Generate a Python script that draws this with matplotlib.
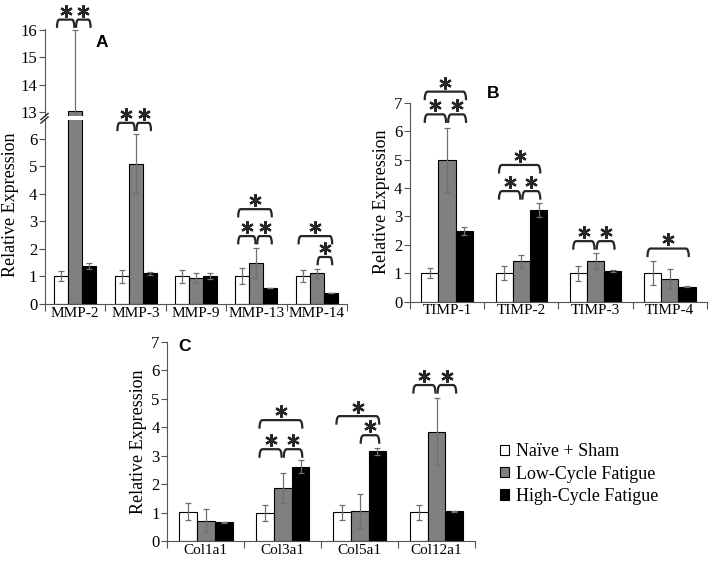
import numpy as np
import matplotlib.pyplot as plt
from matplotlib.patches import Patch, PathPatch
from matplotlib.path import Path
from matplotlib.lines import Line2D

# Times-like text for the whole figure
plt.rcParams['font.family'] = ['Liberation Serif', 'DejaVu Serif']

# data (mean relative expression and error)
mmp_genes = ['MMP-2', 'MMP-3', 'MMP-9', 'MMP-13', 'MMP-14']
mmp_sham = [1.0, 1.0, 1.0, 1.0, 1.0]
mmp_sham_err = [0.18, 0.24, 0.24, 0.3, 0.21]
mmp_low = [13.05, 5.1, 0.92, 1.47, 1.1]
mmp_low_err = [2.95, 1.08, 0.18, 0.55, 0.18]
mmp_high = [1.38, 1.1, 1.0, 0.56, 0.38]
mmp_high_err = [0.1, 0.06, 0.1, 0.0, 0.0]

timp_genes = ['TIMP-1', 'TIMP-2', 'TIMP-3', 'TIMP-4']
timp_sham = [1.02, 1.0, 1.0, 1.02]
timp_sham_err = [0.18, 0.24, 0.26, 0.42]
timp_low = [4.98, 1.42, 1.42, 0.79]
timp_low_err = [1.13, 0.22, 0.28, 0.35]
timp_high = [2.5, 3.22, 1.08, 0.52]
timp_high_err = [0.14, 0.24, 0.05, 0.02]

col_genes = ['Col1a1', 'Col3a1', 'Col5a1', 'Col12a1']
col_sham = [1.04, 1.0, 1.02, 1.02]
col_sham_err = [0.3, 0.29, 0.27, 0.27]
col_low = [0.72, 1.87, 1.06, 3.85]
col_low_err = [0.4, 0.52, 0.6, 1.16]
col_high = [0.67, 2.61, 3.15, 1.06]
col_high_err = [0.02, 0.23, 0.13, 0.02]

group_labels = ['Naïve + Sham', 'Low-Cycle Fatigue', 'High-Cycle Fatigue']
bar_colors = ['white', '#808080', 'black']

# significance brackets: (gene, first bar, second bar, bracket height)
mmp_sig_top = [(0, 0, 1, 16.37), (0, 1, 2, 16.37)]
mmp_sig = [(1, 0, 1, 6.58), (1, 1, 2, 6.58),
           (3, 0, 2, 3.44), (3, 0, 1, 2.46), (3, 1, 2, 2.46),
           (4, 0, 2, 2.46), (4, 1, 2, 1.7)]
timp_sig = [(0, 0, 2, 7.39), (0, 0, 1, 6.59), (0, 1, 2, 6.59),
            (1, 0, 2, 4.81), (1, 0, 1, 3.89), (1, 1, 2, 3.89),
            (2, 0, 1, 2.13), (2, 1, 2, 2.13),
            (3, 0, 2, 1.87)]
col_sig = [(1, 0, 2, 4.25), (1, 0, 1, 3.23), (1, 1, 2, 3.23),
           (2, 0, 2, 4.39), (2, 1, 2, 3.72),
           (3, 0, 1, 5.48), (3, 1, 2, 5.48)]

width = 0.232
spine_col = '#555555'


def draw_bars(ax, genes, means, errs):
    x = np.arange(len(genes))
    for k in range(3):
        pos = x + (k - 1) * width
        ax.bar(pos, means[k], width, color=bar_colors[k], edgecolor='black',
               linewidth=0.8, zorder=2)
        ax.errorbar(pos, means[k], yerr=errs[k], fmt='none', ecolor='#707070',
                    elinewidth=0.9, capsize=2.5, capthick=0.9, zorder=3)


def style_axis(ax, genes, ymax):
    n = len(genes)
    ax.set_xlim(-0.5, n - 0.5)
    ax.set_ylim(0, ymax)
    ax.set_facecolor('none')
    for s in ['top', 'right']:
        ax.spines[s].set_visible(False)
    for s in ['left', 'bottom']:
        ax.spines[s].set_color(spine_col)
        ax.spines[s].set_linewidth(0.8)
    # boundary ticks between groups, names centred under groups
    ax.set_xticks(np.arange(n + 1) - 0.5)
    ax.set_xticklabels([])
    ax.set_xticks(np.arange(n), minor=True)
    ax.set_xticklabels(genes, minor=True, fontsize=11)
    ax.tick_params(axis='x', which='major', length=5, direction='out',
                   color=spine_col)
    ax.tick_params(axis='x', which='minor', length=0, pad=2)
    ax.set_yticks(range(0, int(ymax) + 1))
    ax.tick_params(axis='y', length=4, direction='out', pad=1.5,
                   labelsize=12, color=spine_col)
    ax.set_ylabel('Relative Expression', fontsize=13, labelpad=3)


def draw_brackets(ax, sig, arm=0.3):
    for g, i, j, y in sig:
        ci = g + (i - 1) * width
        cj = g + (j - 1) * width
        xa = ci - 0.3 * width if i == 0 else ci + 0.06 * width
        xb = cj + 0.1 * width if j == 2 else cj - 0.06 * width
        r = 0.04
        verts = [(xa, y - arm), (xa, y), (xa + r, y), (xb - r, y),
                 (xb, y), (xb, y - arm)]
        codes = [Path.MOVETO, Path.CURVE3, Path.CURVE3, Path.LINETO,
                 Path.CURVE3, Path.CURVE3]
        ax.add_patch(PathPatch(Path(verts, codes), fill=False,
                               edgecolor='#262626', linewidth=1.6,
                               clip_on=False, zorder=4))
        ax.plot((xa + xb) / 2, y + 0.32, marker=(6, 2, 0), ms=9, mew=1.6,
                color='#262626', clip_on=False, zorder=4)


fig = plt.figure(figsize=(7.14, 5.61), dpi=100)

# panel A: broken axis, lower and upper part
ax_a = fig.add_axes([0.063, 0.4586, 0.423, 0.3283])
ax_a_top = fig.add_axes([0.063, 0.7938, 0.423, 0.1541])

mmp_means = [mmp_sham, mmp_low, mmp_high]
mmp_errs = [mmp_sham_err, mmp_low_err, mmp_high_err]
draw_bars(ax_a, mmp_genes, mmp_means, mmp_errs)
style_axis(ax_a, mmp_genes, 6.7)
ax_a.yaxis.set_label_coords(-0.085, 0.54)
draw_brackets(ax_a, mmp_sig)

draw_bars(ax_a_top, mmp_genes, mmp_means, mmp_errs)
ax_a_top.set_xlim(-0.5, len(mmp_genes) - 0.5)
ax_a_top.set_ylim(12.87, 16.02)
ax_a_top.set_facecolor('none')
for s in ['top', 'right', 'bottom']:
    ax_a_top.spines[s].set_visible(False)
ax_a_top.spines['left'].set_color(spine_col)
ax_a_top.spines['left'].set_linewidth(0.8)
ax_a_top.set_xticks([])
ax_a_top.set_yticks([13, 14, 15, 16])
ax_a_top.tick_params(axis='y', length=4, direction='out', pad=1.5,
                     labelsize=12, color=spine_col)
draw_brackets(ax_a_top, mmp_sig_top)

# break marks on the y axis
for dy in [0, 3.5]:
    fig.add_artist(Line2D([41 / 714, 48 / 714],
                          [1 - (119.5 + dy) / 561, 1 - (113.5 + dy) / 561],
                          transform=fig.transFigure, color='#333333', lw=1.1))

# panel B
ax_b = fig.add_axes([0.5742, 0.4622, 0.416, 0.3547])
draw_bars(ax_b, timp_genes, [timp_sham, timp_low, timp_high],
          [timp_sham_err, timp_low_err, timp_high_err])
style_axis(ax_b, timp_genes, 7)
draw_brackets(ax_b, timp_sig)

# panel C
ax_c = fig.add_axes([0.2343, 0.0351, 0.431, 0.3558])
draw_bars(ax_c, col_genes, [col_sham, col_low, col_high],
          [col_sham_err, col_low_err, col_high_err])
style_axis(ax_c, col_genes, 7)
draw_brackets(ax_c, col_sig)

# panel letters
for letter, xy in [('A', (0.1429, 0.925)), ('B', (0.691, 0.834)),
                   ('C', (0.259, 0.382))]:
    fig.text(xy[0], xy[1], letter, family='Liberation Sans',
             fontweight='bold', fontsize=12.5, ha='center', va='center')

# legend
handles = [Patch(facecolor=c, edgecolor='black', linewidth=0.8)
           for c in bar_colors]
fig.legend(handles, group_labels, loc='center left',
           bbox_to_anchor=(0.7, 0.155), frameon=False, fontsize=13,
           handlelength=0.5, handleheight=0.5, handletextpad=0.4,
           labelspacing=0.3, borderpad=0, borderaxespad=0)

fig.savefig('out.png', dpi=100)
